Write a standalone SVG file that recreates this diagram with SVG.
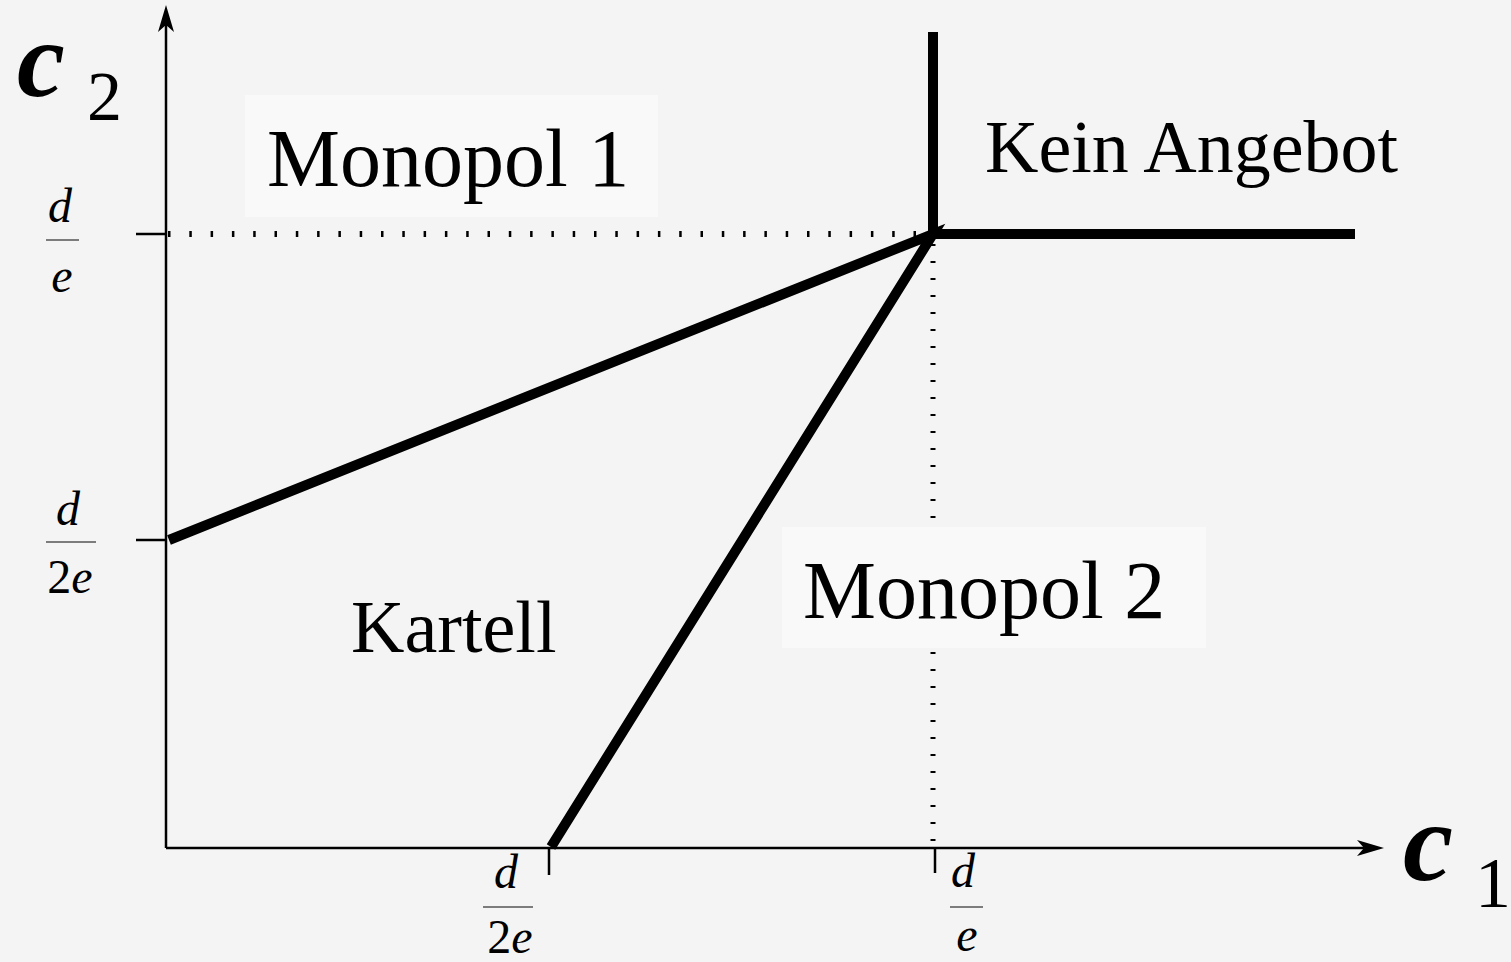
<svg xmlns="http://www.w3.org/2000/svg" width="1511" height="962" viewBox="0 0 1511 962">
  <style>
    .lbl { font-family: "Liberation Serif", "Times New Roman", serif; fill: #000; }
    .frac { font-family: "Liberation Serif", "Times New Roman", serif; font-size: 48px; font-style: italic; text-anchor: middle; fill: #000; }
    .up { font-style: normal; }
    .axis { stroke: #000; stroke-width: 2.5; fill: none; }
    .tick { stroke: #000; stroke-width: 2.5; }
    .fbar { stroke: #555; stroke-width: 1.5; }
    .thick { stroke: #000; stroke-width: 10; fill: none; stroke-linejoin: miter; }
    .box { fill: #f9f9f9; }
  </style>
  <rect x="0" y="0" width="1511" height="962" fill="#f4f4f4"/>

  <g id="connectors">
    <!-- dotted guides -->
    <line x1="168" y1="234" x2="930" y2="234" stroke="#000" stroke-width="6" stroke-dasharray="2.5 18.8"/>
    <line x1="933" y1="244" x2="933" y2="846" stroke="#000" stroke-width="5" stroke-dasharray="2 15"/>
    <!-- axes -->
    <line class="axis" x1="166" y1="848" x2="166" y2="22"/>
    <path d="M166,5 L174,32 L166,25 L158,32 Z" fill="#000"/>
    <line class="axis" x1="166" y1="848" x2="1368" y2="848"/>
    <path d="M1384,848 L1357,856 L1364,848 L1357,840 Z" fill="#000"/>
    <!-- ticks -->
    <line class="tick" x1="136" y1="234" x2="166" y2="234"/>
    <line class="tick" x1="136" y1="540" x2="166" y2="540"/>
    <line class="tick" x1="549" y1="848" x2="549" y2="875"/>
    <line class="tick" x1="935" y1="848" x2="935" y2="873"/>
    <!-- boundaries -->
    <polyline class="thick" points="169,540 933,234 551,847"/>
    <polyline class="thick" points="933,32 933,234 1355,234"/>
  </g>

  <g id="monopol1">
    <rect class="box" x="245" y="95" width="413" height="122"/>
    <text class="lbl" x="267" y="186" font-size="82">Monopol 1</text>
  </g>
  <g id="monopol2">
    <rect class="box" x="782" y="527" width="424" height="121"/>
    <text class="lbl" x="803" y="618" font-size="82">Monopol 2</text>
  </g>
  <g id="kein-angebot">
    <text class="lbl" x="985" y="172" font-size="74">Kein Angebot</text>
  </g>
  <g id="kartell">
    <text class="lbl" x="351" y="652" font-size="74">Kartell</text>
  </g>

  <g id="c2-label">
    <text class="lbl" x="17" y="96" font-size="108" font-style="italic" font-weight="bold">c</text>
    <text class="lbl" x="87" y="120" font-size="70">2</text>
  </g>
  <g id="c1-label">
    <text class="lbl" x="1403" y="880" font-size="113" font-style="italic" font-weight="bold">c</text>
    <text class="lbl" x="1475" y="907" font-size="72">1</text>
  </g>

  <g id="ytick-d-e">
    <text class="frac" x="60" y="222">d</text>
    <line class="fbar" x1="46" y1="240" x2="79" y2="240"/>
    <text class="frac" x="62" y="292">e</text>
  </g>
  <g id="ytick-d-2e">
    <text class="frac" x="68" y="525">d</text>
    <line class="fbar" x1="46" y1="542" x2="96" y2="542"/>
    <text class="frac" x="70" y="593"><tspan class="up">2</tspan>e</text>
  </g>
  <g id="xtick-d-2e">
    <text class="frac" x="506" y="888">d</text>
    <line class="fbar" x1="483" y1="907" x2="533" y2="907"/>
    <text class="frac" x="510" y="953"><tspan class="up">2</tspan>e</text>
  </g>
  <g id="xtick-d-e">
    <text class="frac" x="963" y="887">d</text>
    <line class="fbar" x1="950" y1="907" x2="983" y2="907"/>
    <text class="frac" x="967" y="951">e</text>
  </g>
</svg>
